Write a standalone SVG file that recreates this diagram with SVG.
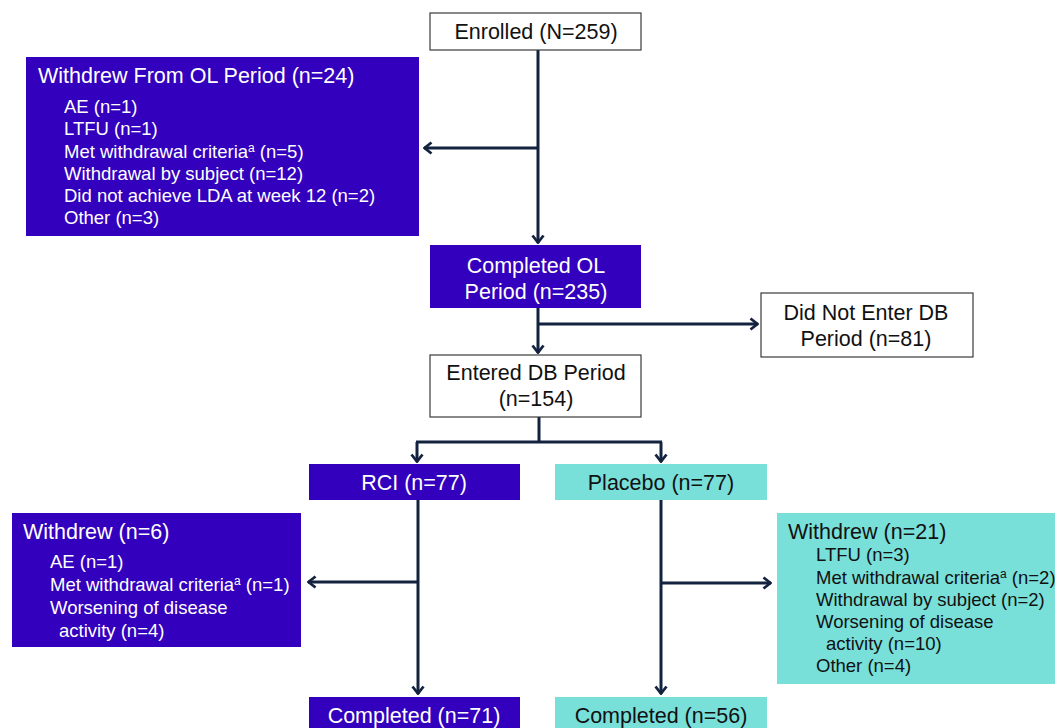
<svg xmlns="http://www.w3.org/2000/svg" width="1055" height="728" viewBox="0 0 1055 728">
<defs>
<style>
.wbox{fill:#ffffff;stroke:#3a3a3a;stroke-width:1.2}
.pbox{fill:#3300bd}
.tbox{fill:#79dfd9}
text{font-family:"Liberation Sans",Arial,sans-serif}
.t20{font-size:21.5px}
.t18{font-size:18.5px}
.wt{fill:#ffffff}
.bt{fill:#111111}
.c{text-anchor:middle}
.conn{fill:none;stroke:#13233f;stroke-width:3}
</style>
<marker id="arr" viewBox="0 0 10 14" refX="9" refY="7" markerWidth="10" markerHeight="14" markerUnits="userSpaceOnUse" orient="auto">
<path d="M1.5,1.5 L8.5,7 L1.5,12.5" fill="none" stroke="#13233f" stroke-width="2.8" stroke-linejoin="miter"/>
</marker>
</defs>
<rect width="1055" height="728" fill="#ffffff"/>

<g id="connectors">
<path class="conn" d="M538,50 V243" marker-end="url(#arr)"/>
<path class="conn" d="M538,148 H424" marker-end="url(#arr)"/>
<path class="conn" d="M538,308 V353" marker-end="url(#arr)"/>
<path class="conn" d="M538,324 H758" marker-end="url(#arr)"/>
<path class="conn" d="M539,417 V442"/>
<path class="conn" d="M416,442 H662"/>
<path class="conn" d="M417,442 V462" marker-end="url(#arr)"/>
<path class="conn" d="M661,442 V462" marker-end="url(#arr)"/>
<path class="conn" d="M418,500 V694" marker-end="url(#arr)"/>
<path class="conn" d="M418,582 H308" marker-end="url(#arr)"/>
<path class="conn" d="M661,500 V694" marker-end="url(#arr)"/>
<path class="conn" d="M661,583 H771" marker-end="url(#arr)"/>
</g>

<g id="enrolled">
<rect class="wbox" x="430" y="13" width="211" height="37"/>
<text class="t20 bt c" x="536" y="39">Enrolled (N=259)</text>
</g>

<g id="withdrew-ol">
<rect class="pbox" x="26" y="57" width="393" height="179"/>
<text class="t20 wt" x="38" y="83">Withdrew From OL Period (n=24)</text>
<text class="t18 wt" x="64" y="113">AE (n=1)</text>
<text class="t18 wt" x="64" y="135">LTFU (n=1)</text>
<text class="t18 wt" x="64" y="158">Met withdrawal criteria<tspan font-size="12" dy="-6">a</tspan><tspan dy="6"> (n=5)</tspan></text>
<text class="t18 wt" x="64" y="180">Withdrawal by subject (n=12)</text>
<text class="t18 wt" x="64" y="202">Did not achieve LDA at week 12 (n=2)</text>
<text class="t18 wt" x="64" y="224">Other (n=3)</text>
</g>

<g id="completed-ol">
<rect class="pbox" x="430" y="245" width="211" height="63"/>
<text class="t20 wt c" x="536" y="273">Completed OL</text>
<text class="t20 wt c" x="536" y="299">Period (n=235)</text>
</g>

<g id="not-enter-db">
<rect class="wbox" x="761" y="293" width="212" height="64"/>
<text class="t20 bt c" x="866" y="320">Did Not Enter DB</text>
<text class="t20 bt c" x="866" y="346">Period (n=81)</text>
</g>

<g id="entered-db">
<rect class="wbox" x="430" y="355" width="211" height="62"/>
<text class="t20 bt c" x="536" y="380">Entered DB Period</text>
<text class="t20 bt c" x="536" y="406">(n=154)</text>
</g>

<g id="rci">
<rect class="pbox" x="309" y="464" width="211" height="36"/>
<text class="t20 wt c" x="414" y="490">RCI (n=77)</text>
</g>

<g id="placebo">
<rect class="tbox" x="555" y="464" width="212" height="36"/>
<text class="t20 bt c" x="661" y="490">Placebo (n=77)</text>
</g>

<g id="withdrew-rci">
<rect class="pbox" x="12" y="513" width="289" height="134"/>
<text class="t20 wt" x="23" y="539">Withdrew (n=6)</text>
<text class="t18 wt" x="50" y="568">AE (n=1)</text>
<text class="t18 wt" x="50" y="591">Met withdrawal criteria<tspan font-size="12" dy="-6">a</tspan><tspan dy="6"> (n=1)</tspan></text>
<text class="t18 wt" x="50" y="614">Worsening of disease</text>
<text class="t18 wt" x="59" y="637">activity (n=4)</text>
</g>

<g id="withdrew-placebo">
<rect class="tbox" x="777" y="513" width="278" height="171"/>
<text class="t20 bt" x="788" y="539">Withdrew (n=21)</text>
<text class="t18 bt" x="816" y="561">LTFU (n=3)</text>
<text class="t18 bt" x="816" y="584">Met withdrawal criteria<tspan font-size="12" dy="-6">a</tspan><tspan dy="6"> (n=2)</tspan></text>
<text class="t18 bt" x="816" y="606">Withdrawal by subject (n=2)</text>
<text class="t18 bt" x="816" y="628">Worsening of disease</text>
<text class="t18 bt" x="826" y="650">activity (n=10)</text>
<text class="t18 bt" x="816" y="672">Other (n=4)</text>
</g>

<g id="completed-rci">
<rect class="pbox" x="309" y="697" width="211" height="40"/>
<text class="t20 wt c" x="414" y="723">Completed (n=71)</text>
</g>

<g id="completed-placebo">
<rect class="tbox" x="555" y="697" width="212" height="40"/>
<text class="t20 bt c" x="661" y="723">Completed (n=56)</text>
</g>
</svg>
